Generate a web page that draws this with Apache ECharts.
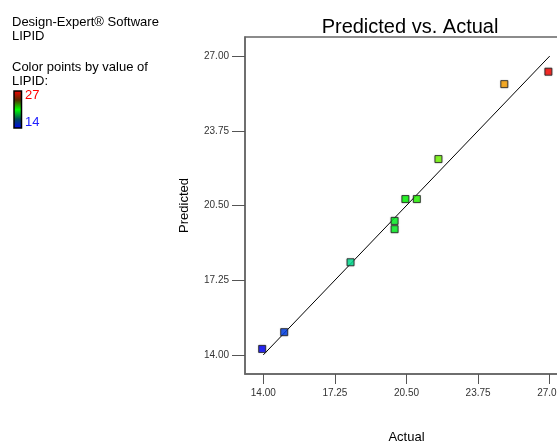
<!DOCTYPE html>
<html>
<head>
<meta charset="utf-8">
<script src="https://cdn.jsdelivr.net/npm/echarts@6/dist/echarts.min.js"></script>
<style>
  html, body { margin: 0; padding: 0; background: #fff; }
  #chart { width: 557px; height: 441px; }
</style>
</head>
<body>
<div id="chart"></div>
<script>
// LIPID response: actual vs. model-predicted values
const actual    = [13.95, 14.95, 17.96, 19.96, 19.96, 20.45, 20.97, 21.95, 24.94, 26.94];
const predicted = [14.26, 14.99, 18.03, 19.83, 19.47, 20.78, 20.78, 22.52, 25.78, 26.32];
const axisTicks = [14.00, 17.25, 20.50, 23.75, 27.00];
const axisMin = 13.17, axisMax = 27.83;
const colorMin = 14, colorMax = 27;
const refLine = [14, 27];

const font = '"Liberation Sans", Arial, sans-serif';
const points = actual.map((a, i) => [a, predicted[i]]);

const chart = echarts.init(document.getElementById('chart'), null, { renderer: 'canvas' });

const axisCommon = {
  type: 'value',
  min: axisMin,
  max: axisMax,
  splitLine: { show: false },
  axisLine: { show: true, lineStyle: { color: '#666', width: 1.5 } },
  nameLocation: 'middle',
  nameTextStyle: { fontFamily: font, fontSize: 13, color: '#000' }
};

chart.setOption({
  animation: false,
  backgroundColor: '#fff',
  title: {
    text: 'Predicted vs. Actual',
    left: 405, top: 12, textAlign: 'center',
    textStyle: { fontFamily: font, fontSize: 20, fontWeight: 'normal', color: '#000' }
  },
  grid: {
    left: 245, top: 37, width: 323, height: 337,
    outerBoundsMode: 'none',
    containLabel: false,
    show: true, borderColor: '#666', borderWidth: 1.5
  },
  xAxis: Object.assign({}, axisCommon, {
    name: 'Actual',
    nameGap: 57,
    axisTick: { show: true, length: 10, customValues: axisTicks, lineStyle: { color: '#555' } },
    axisLabel: {
      customValues: axisTicks, margin: 14,
      formatter: v => v.toFixed(2),
      fontFamily: font, fontSize: 10, color: '#333'
    }
  }),
  yAxis: Object.assign({}, axisCommon, {
    name: 'Predicted',
    nameGap: 54,
    axisTick: { show: true, length: 13, customValues: axisTicks, lineStyle: { color: '#555' } },
    axisLabel: {
      customValues: axisTicks, margin: 16,
      formatter: v => v.toFixed(2),
      fontFamily: font, fontSize: 10, color: '#333'
    }
  }),
  visualMap: {
    show: false,
    type: 'continuous',
    seriesIndex: 1,
    dimension: 0,
    min: colorMin, max: colorMax,
    inRange: { color: ['#0000ff', '#00e0c0', '#00ff00', '#ffff00', '#ff0000'] }
  },
  series: [
    {
      type: 'line',
      data: [[refLine[0], refLine[0]], [refLine[1], refLine[1]]],
      symbol: 'none',
      lineStyle: { color: '#000', width: 1 },
      silent: true
    },
    {
      type: 'scatter',
      data: points,
      symbol: 'rect',
      symbolSize: 7,
      itemStyle: {
        borderColor: '#222', borderWidth: 1,
        shadowColor: 'rgba(0,0,0,0.35)', shadowBlur: 1.5
      },
      z: 3
    }
  ],
  graphic: [
    {
      type: 'text', left: 12, top: 15,
      style: {
        text: 'Design-Expert® Software\nLIPID',
        font: '13px ' + font, fill: '#000', lineHeight: 14
      }
    },
    {
      type: 'text', left: 12, top: 60,
      style: {
        text: 'Color points by value of\nLIPID:',
        font: '13px ' + font, fill: '#000', lineHeight: 14
      }
    },
    {
      type: 'rect',
      shape: { x: 14, y: 91, width: 7.5, height: 37 },
      style: {
        fill: new echarts.graphic.LinearGradient(0, 0, 0, 1, [
          { offset: 0, color: '#ff0000' },
          { offset: 0.25, color: '#552a00' },
          { offset: 0.5, color: '#00ff00' },
          { offset: 0.75, color: '#004a55' },
          { offset: 1, color: '#0000ff' }
        ]),
        stroke: '#000', lineWidth: 1.5
      }
    },
    {
      type: 'text', left: 25, top: 89,
      style: { text: String(colorMax), font: '13px ' + font, fill: '#ff0000' }
    },
    {
      type: 'text', left: 25, top: 116,
      style: { text: String(colorMin), font: '13px ' + font, fill: '#2020ff' }
    }
  ]
});
</script>
</body>
</html>
